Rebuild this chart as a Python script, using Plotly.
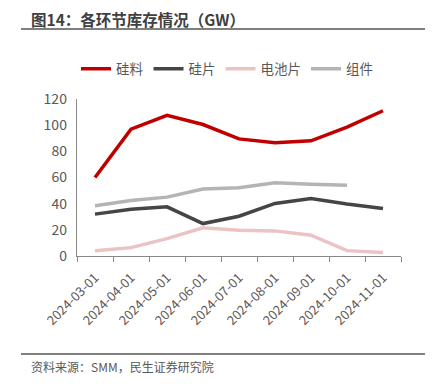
import plotly.graph_objects as go

dates = ["2024-03-01", "2024-04-01", "2024-05-01", "2024-06-01", "2024-07-01",
         "2024-08-01", "2024-09-01", "2024-10-01", "2024-11-01"]
polysilicon = [60, 97, 107.5, 100.5, 89.5, 86.5, 88, 98.5, 111]
wafer = [32, 35.8, 37.6, 24.8, 30.4, 40.2, 44, 39.7, 36.3]
cell = [4.1, 6.4, 13.3, 21.5, 19.7, 19.2, 15.9, 4.1, 2.6]
module = [38.4, 42.5, 45, 51.2, 52.2, 56, 54.8, 54, None]

names = ["硅料", "硅片", "电池片", "组件"]
colors = ["#C00000", "#454545", "#EBC3C3", "#B4B4B4"]
series = [polysilicon, wafer, cell, module]

FONT = "Noto Sans CJK SC"
OFF = 8  # page body margin
W, H = 433 - OFF, 391 - OFF
# plot area in page pixels: x 77..401, y 99..256
L, T = 77 - OFF, 99 - OFF
R, B = (W + OFF) - 401, (H + OFF) - 256
PW, PH = W - L - R, H - T - B


def px(x):
    return (x - OFF - L) / PW


def py(y):
    return (H - B - (y - OFF)) / PH


fig = go.Figure()
for n, c, s in zip(names, colors, series):
    fig.add_trace(go.Scatter(x=dates, y=s, name=n, mode="lines",
                             line=dict(color=c, width=3.5), connectgaps=False))

fig.update_layout(
    width=W, height=H,
    margin=dict(l=L, r=R, t=T, b=B, autoexpand=False),
    paper_bgcolor="white", plot_bgcolor="white",
    font=dict(family=FONT, size=13, color="#595959"),
    showlegend=True,
    legend=dict(orientation="h", x=px(227), xanchor="center", y=py(69), yref="paper",
                yanchor="middle", font=dict(size=13.5, color="#595959"),
                itemwidth=30, tracegroupgap=0),
    xaxis=dict(type="category", range=[-0.5, 8.5], showgrid=False,
               showline=True, linecolor="#888888", linewidth=1,
               ticks="outside", tickson="boundaries", ticklen=5, tickcolor="#888888",
               tickangle=-45, ticklabelstandoff=8,
               tickfont=dict(size=13, color="#595959")),
    yaxis=dict(range=[0, 120], dtick=20, showgrid=False,
               showline=True, linecolor="#888888", linewidth=1,
               ticks="", zeroline=False, ticksuffix="  ",
               tickfont=dict(size=14, color="#595959")),
    shapes=[
        dict(type="line", xref="paper", yref="paper", x0=px(21), x1=px(428),
             y0=py(29), y1=py(29), line=dict(color="#555555", width=1.5)),
        dict(type="line", xref="paper", yref="paper", x0=px(21), x1=px(428),
             y0=py(354), y1=py(354), line=dict(color="#555555", width=1.5)),
    ],
    annotations=[
        dict(text="<b>图14：各环节库存情况（GW）</b>", xref="paper", yref="paper",
             x=px(29), y=py(19), xanchor="left", yanchor="middle",
             showarrow=False, font=dict(size=15.5, color="#404040", family=FONT)),
        dict(text="资料来源：SMM，民生证券研究院", xref="paper", yref="paper",
             x=px(29), y=py(366), xanchor="left", yanchor="middle",
             showarrow=False, font=dict(size=12, color="#595959", family=FONT)),
    ],
)

fig.write_html("out.html")
